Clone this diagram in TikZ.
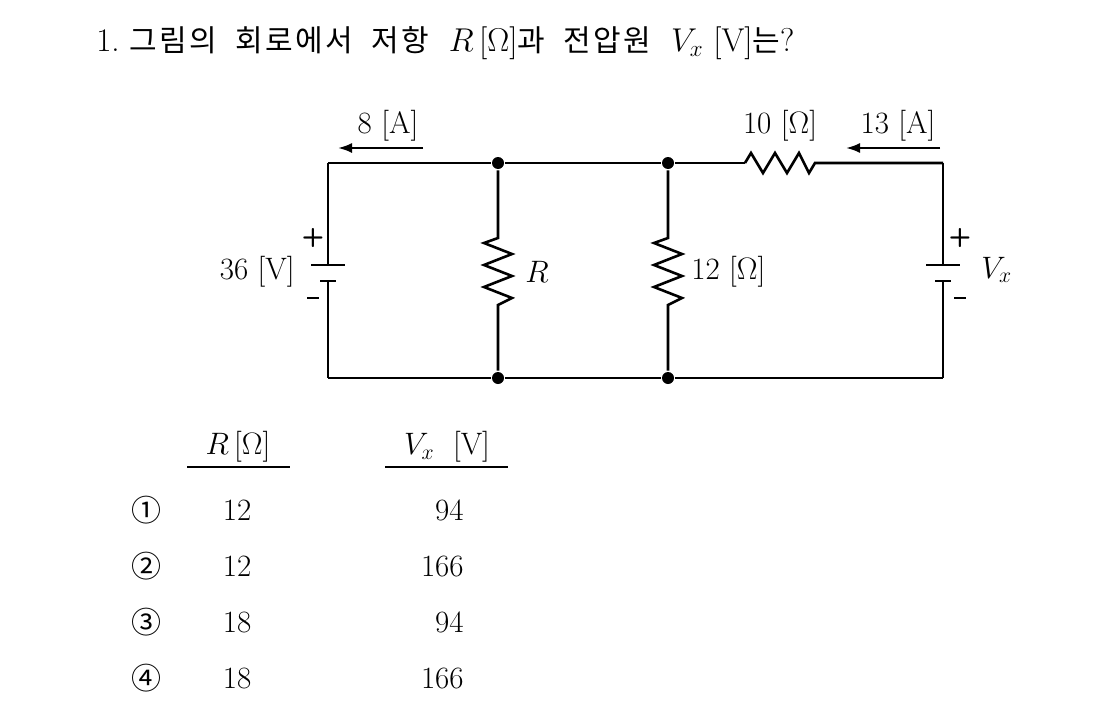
\RequirePackage{fix-cm}
\documentclass[tikz,border=0pt]{standalone}
\usepackage{fontspec}
\usetikzlibrary{arrows.meta}
\newfontfamily\cjk{Noto Sans CJK KR}
\newfontfamily\cjkt[LetterSpace=8,WordSpace=2]{Noto Sans CJK KR}
\begin{document}
\begin{tikzpicture}[x=1pt,y=-1pt,line width=2.6pt,
  lbl/.style={font=\fontsize{31}{36}\selectfont,inner sep=0pt},
  pm/.style={inner sep=0pt,font=\sffamily\bfseries\fontsize{26}{30}\selectfont},
  dot/.style={circle,fill,inner sep=0pt,minimum size=12pt},
  arr/.style={-{Latex[length=14pt,width=10pt]},line width=2.2pt}]
\useasboundingbox (0,0) rectangle (1110,717);
\node[lbl,anchor=west,font=\fontsize{33}{38}\selectfont] (title) at (95,43) {1.~{\cjkt\fontsize{30}{36}\selectfont 그림의 회로에서 저항}~~$R\,[\Omega]${\cjkt\fontsize{30}{36}\selectfont 과 전압원}~~$V_x$~[V]{\cjkt\fontsize{30}{36}\selectfont 는}?};
\coordinate (tl) at (328,163); \coordinate (bl) at (328,378);
\coordinate (tr) at (943,163); \coordinate (br) at (943,378);
\node[dot] (a) at (498,163) {}; \node[dot] (b) at (668,163) {};
\node[dot] (c) at (498,378) {}; \node[dot] (d) at (668,378) {};
% left battery
\draw (tl) -- (328,265); \draw (311,265) -- (345,265);
\draw (320,281) -- (336,281); \draw (328,281) -- (bl);
\node[pm] (lp) at (313,238) {+};
\node[pm] (lm) at (313,298) {\rule{12pt}{2.8pt}};
\node[lbl,anchor=east] (v36) at (296,272) {36 [V]};
% right battery
\draw (tr) -- (943,265); \draw (926,265) -- (960,265);
\draw (935,281) -- (951,281); \draw (943,281) -- (br);
\node[pm] (rp) at (960,238) {+};
\node[pm] (rm) at (960,298) {\rule{12pt}{2.8pt}};
\node[lbl,anchor=west] (vx) at (980,270) {$V_x$};
% wires
\draw (tl) -- (a) -- (b) -- (745,163);
\draw (745,163) -- (751,153) -- (763,173) -- (775,153) -- (787,173) -- (799,153) -- (809,173) -- (815,163) -- (tr);
\draw (bl) -- (c) -- (d) -- (br);
\draw (a) -- (498,238) -- (484,243) -- (512,254) -- (484,265) -- (512,276) -- (484,287) -- (512,298) -- (498,305) -- (c);
\node[lbl,anchor=west] (rl) at (524,272) {$R$};
\draw (b) -- (668,238) -- (654,243) -- (682,254) -- (654,265) -- (682,276) -- (654,287) -- (682,298) -- (668,305) -- (d);
\node[lbl,anchor=west] (r12) at (690,272) {12 [$\Omega$]};
\coordinate (a1s) at (423,148); \coordinate (a1e) at (338,148);
\draw[arr] (a1s) -- (a1e);
\node[lbl] (i8) at (388,126) {8 [A]};
\coordinate (a2s) at (940,148); \coordinate (a2e) at (846,148);
\draw[arr] (a2s) -- (a2e);
\node[lbl] (i13) at (898,126) {13 [A]};
\node[lbl] (r10) at (780,126) {10 [$\Omega$]};
% table
\node[lbl] (h1) at (238,447) {$R\,[\Omega]$};
\draw[line width=1.5pt] (187,467) -- (290,467);
\node[lbl] (h2) at (447,447) {$V_x$~~[V]};
\draw[line width=1.5pt] (385,467) -- (508,467);
\foreach \y/\c/\r/\v in {510/①/12/94,566/②/12/166,622/③/18/94,678/④/18/166}{
  \node[lbl,font=\cjk\fontsize{30}{34}\selectfont] at (146,\y) {\c};
  \node[lbl] at (237,\y) {\r};
  \node[lbl,anchor=east] at (465,\y) {\v};
}
\end{tikzpicture}
\end{document}
